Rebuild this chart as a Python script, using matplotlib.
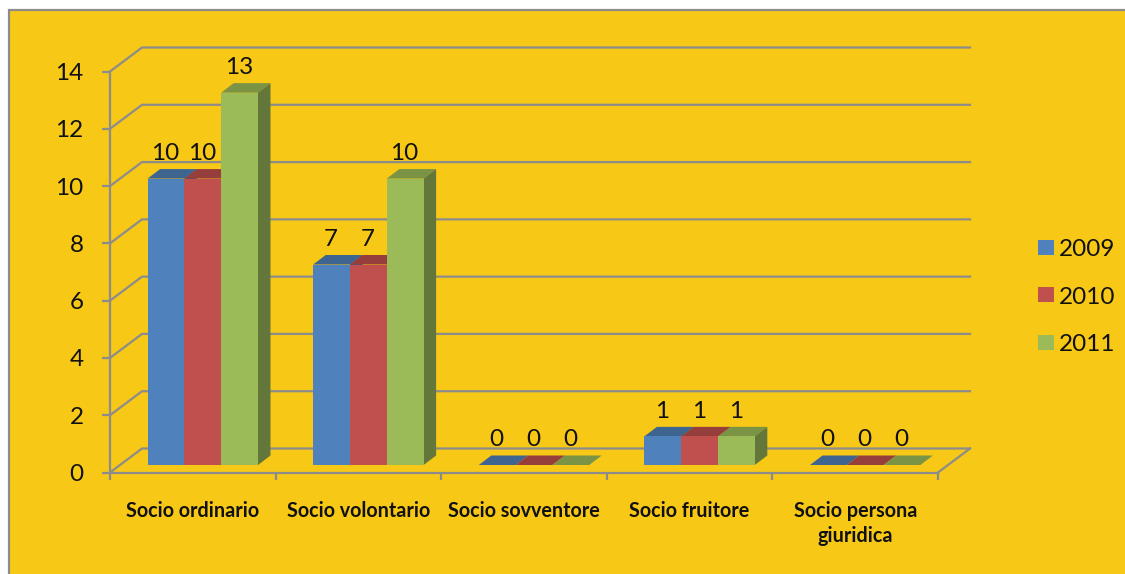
import matplotlib
matplotlib.use("Agg")
import matplotlib.pyplot as plt
from matplotlib.patches import Patch, Polygon, Rectangle

categories = ["Socio ordinario", "Socio volontario", "Socio sovventore",
              "Socio fruitore", "Socio persona\ngiuridica"]
years = ["2009", "2010", "2011"]
v2009 = [10, 7, 0, 1, 0]
v2010 = [10, 7, 0, 1, 0]
v2011 = [13, 10, 0, 1, 0]
y_ticks = [0, 2, 4, 6, 8, 10, 12, 14]

W, H = 1125, 574
YELLOW = "#F7C815"
GREY = "#8C8C8C"
front = ["#4F81BD", "#C0504D", "#9BBB59"]
top = ["#3E6590", "#963E3C", "#7A9345"]
side = ["#385D8A", "#8C3A38", "#64773A"]

plt.rcParams["font.family"] = ["Lato", "DejaVu Sans"]

fig = plt.figure(figsize=(W / 100, H / 100), dpi=100, facecolor="white")
# yellow page with the grey frame, only top and left are in the picture
fig.patches.append(Rectangle((8.5 / W, -0.1), 1.2, 1.1 - 10.5 / H, transform=fig.transFigure,
                             facecolor=YELLOW, edgecolor=GREY, linewidth=1.6, zorder=-5))

# front edge of the floor goes 110..938 px, value 14 is at 71.5 px
ax = fig.add_axes([110 / W, 1 - 472.5 / H, 828 / W, 401 / H])
ax.patch.set_visible(False)
ax.set_xlim(0, 5)
ax.set_ylim(0, 14)

px_x = 5 / 828
px_y = 14 / 401

# oblique offsets, in px
back_dx, back_dy = 32 * px_x, 24 * px_y
plane_dx, plane_dy = 10 * px_x, 7.5 * px_y
depth_dx, depth_dy = 12.5 * px_x, 9.5 * px_y
bar_w = 36.8 * px_x

# walls
for t in y_ticks:
    ax.plot([0, back_dx, 5 + back_dx], [t, t + back_dy, t + back_dy], color=GREY, lw=1.6,
            clip_on=False, zorder=1, solid_joinstyle="miter")
ax.plot([5, 5 + back_dx], [0, back_dy], color=GREY, lw=1.6, clip_on=False, zorder=1)

# bars
for s, vals in enumerate([v2009, v2010, v2011]):
    xs = [i + 0.5 + plane_dx + (s - 1) * bar_w for i in range(5)]
    for x, v in zip(xs, vals):
        l, r = x - bar_w / 2, x + bar_w / 2
        b, t = plane_dy, plane_dy + v
        ax.add_patch(Polygon([(l, t), (r, t), (r + depth_dx, t + depth_dy), (l + depth_dx, t + depth_dy)],
                             facecolor=top[s], edgecolor="none", clip_on=False, zorder=2 + s))
        if v > 0:
            ax.add_patch(Polygon([(r, b), (r + depth_dx, b + depth_dy), (r + depth_dx, t + depth_dy), (r, t)],
                                 facecolor=side[s], edgecolor="none", clip_on=False, zorder=2 + s))
        ax.annotate(str(v), (x, t), xytext=(-0.5, 25 * 0.72), textcoords="offset points", ha="center",
                    va="center", fontsize=17.5, color="#111111", annotation_clip=False, zorder=8)
    ax.bar(xs, [v for v in vals], bar_w, bottom=plane_dy, color=front[s], clip_on=False,
           zorder=2.5 + s, linewidth=0)

# axes
for name in ["top", "right"]:
    ax.spines[name].set_visible(False)
for name in ["left", "bottom"]:
    ax.spines[name].set_color(GREY)
    ax.spines[name].set_linewidth(1.6)
    ax.spines[name].set_zorder(7)

ax.set_yticks(y_ticks)
ax.set_yticklabels([str(t) for t in y_ticks], fontsize=17.5, color="#111111")
ax.tick_params(axis="y", length=5.5, width=1.6, color=GREY, pad=13.5)
ax.set_xticks(range(6))
ax.set_xticklabels([""] * 6)
ax.tick_params(axis="x", which="major", length=5, width=1.6, color=GREY)
ax.set_xticks([i + 0.5 for i in range(5)], minor=True)
ax.set_xticklabels(categories, minor=True, fontsize=14.2, fontweight="bold", color="#111111",
                   linespacing=1.3)
ax.tick_params(axis="x", which="minor", length=0, pad=20.5)

handles = [Patch(facecolor=c, edgecolor="none") for c in front]
fig.legend(handles, years, loc="center left", bbox_to_anchor=(1030.7 / W, 1 - 297 / H), frameon=False,
           fontsize=17.5, labelcolor="#111111", labelspacing=1.08, handlelength=0.66, handleheight=0.58,
           handletextpad=0.2, borderpad=0.3, borderaxespad=0)

fig.savefig("out.png", dpi=100, facecolor=fig.get_facecolor())
